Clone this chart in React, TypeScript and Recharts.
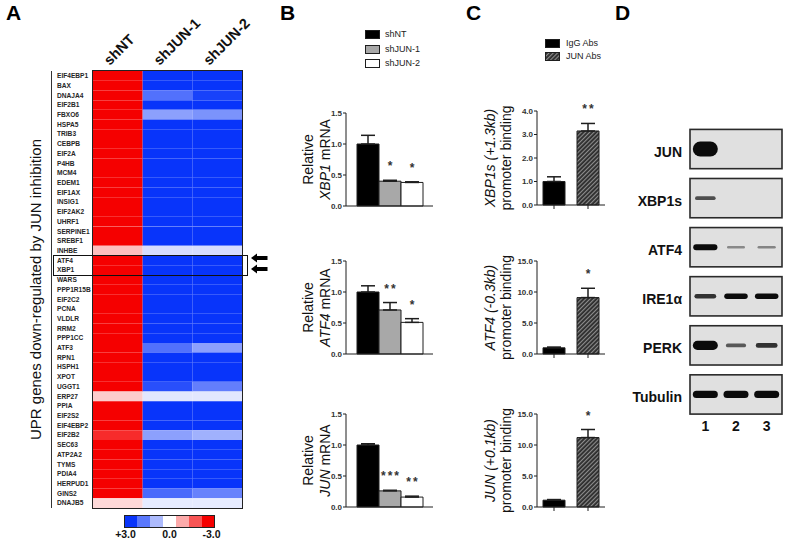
import React from 'react';
import {
  BarChart, Bar, XAxis, YAxis, ErrorBar, LabelList, Cell,
  ScatterChart, Scatter,
} from 'recharts';

const FONT = 'Arial, "Liberation Sans", Helvetica, sans-serif';

// ---------- A: heatmap of UPR genes ----------
const GENES = [
  'EIF4EBP1', 'BAX', 'DNAJA4', 'EIF2B1', 'FBXO6', 'HSPA5', 'TRIB3', 'CEBPB', 'EIF2A', 'P4HB',
  'MCM4', 'EDEM1', 'EIF1AX', 'INSIG1', 'EIF2AK2', 'UHRF1', 'SERPINE1', 'SREBF1', 'INHBE', 'ATF4',
  'XBP1', 'WARS', 'PPP1R15B', 'EIF2C2', 'PCNA', 'VLDLR', 'RRM2', 'PPP1CC', 'ATF3', 'RPN1',
  'HSPH1', 'XPOT', 'UGGT1', 'ERP27', 'PPIA', 'EIF2S2', 'EIF4EBP2', 'EIF2B2', 'SEC63', 'ATP2A2',
  'TYMS', 'PDIA4', 'HERPUD1', 'GINS2', 'DNAJB5',
];
const HEAT_SAMPLES = ['shNT', 'shJUN-1', 'shJUN-2'];
const Z_SHNT = [
  -3, -3, -3, -3, -3, -3, -3, -3, -3, -3,
  -3, -3, -3, -3, -3, -3, -3, -3, -0.75, -3,
  -3, -3, -3, -3, -3, -3, -3, -3, -3, -3,
  -3, -3, -3, -0.6, -3, -3, -3, -2.5, -3, -3,
  -3, -3, -3, -3, -0.45,
];
const Z_SHJUN1 = [
  3, 3, 2.1, 3, 1.4, 3, 3, 3, 3, 3,
  3, 3, 3, 3, 3, 3, 3, 3, 0.5, 3,
  3, 3, 3, 3, 3, 3, 3, 3, 2.1, 3,
  3, 3, 2.6, 0.35, 3, 3, 3, 1.4, 3, 3,
  3, 3, 3, 2.2, 0.3,
];
const Z_SHJUN2 = [
  3, 3, 2.8, 3, 1.6, 3, 3, 3, 3, 3,
  3, 3, 3, 3, 3, 3, 3, 3, 0.5, 3,
  3, 3, 3, 3, 3, 3, 3, 3, 1.4, 3,
  3, 3, 1.9, 0.35, 3, 3, 3, 1.15, 3, 3,
  3, 3, 3, 1.85, 0.3,
];
const SCALE_STEPS = [3, 2, 1, 0, -1, -2, -3];
const SCALE_LABELS = ['+3.0', '', '', '0.0', '', '', '-3.0'];

// ---------- B: qPCR ----------
const QPCR_GROUPS = ['shNT', 'shJUN-1', 'shJUN-2'];
const QPCR_GENES = ['XBP1', 'ATF4', 'JUN'];
const XBP1_MEAN = [1.0, 0.4, 0.38];
const XBP1_SEM = [0.14, 0.015, 0.01];
const XBP1_SIG = ['', '*', '*'];
const ATF4_MEAN = [1.0, 0.71, 0.51];
const ATF4_SEM = [0.1, 0.12, 0.06];
const ATF4_SIG = ['', '**', '*'];
const JUN_MEAN = [1.0, 0.26, 0.16];
const JUN_SEM = [0.02, 0.01, 0.015];
const JUN_SIG = ['', '***', '**'];
const QPCR_TICKS = [0, 0.5, 1.0, 1.5];

// ---------- C: ChIP ----------
const CHIP_GROUPS = ['IgG Abs', 'JUN Abs'];
const CHIP_TARGETS = ['XBP1s (+1.3kb)', 'ATF4 (-0.3kb)', 'JUN (+0.1kb)'];
const CHIP_XBP1S_MEAN = [1.0, 3.15];
const CHIP_XBP1S_SEM = [0.2, 0.32];
const CHIP_XBP1S_SIG = ['', '**'];
const CHIP_ATF4_MEAN = [1.0, 9.1];
const CHIP_ATF4_SEM = [0.12, 1.5];
const CHIP_ATF4_SIG = ['', '*'];
const CHIP_JUN_MEAN = [1.1, 11.2];
const CHIP_JUN_SEM = [0.1, 1.3];
const CHIP_JUN_SIG = ['', '*'];
const CHIP_TICKS_SMALL = [0, 1, 2, 3, 4];
const CHIP_TICKS_LARGE = [0, 5, 10, 15];

// ---------- D: western blot ----------
const BLOT_TARGETS = ['JUN', 'XBP1s', 'ATF4', 'IRE1α', 'PERK', 'Tubulin'];
const BLOT_LANES = ['shNT', 'shJUN-1', 'shJUN-2'];
const BLOT_SIGNAL = [
  [1.0, 0, 0],
  [0.15, 0, 0],
  [0.3, 0.04, 0.05],
  [0.2, 0.27, 0.27],
  [0.55, 0.13, 0.2],
  [0.4, 0.4, 0.4],
];

// colours
const BLUE = [8, 52, 250];
const RED = [245, 0, 0];
const heatColor = (v: number) => {
  const t = Math.min(1, Math.abs(v) / 3);
  const c = v >= 0 ? BLUE : RED;
  const m = c.map((ch) => Math.round(255 + (ch - 255) * t));
  return `rgb(${m[0]},${m[1]},${m[2]})`;
};
const QPCR_FILLS = ['#000', '#a8a8a8', '#fff'];
const CHIP_FILLS = ['#000', 'url(#hatch)'];
const INK = '#1e1e1e';

type Plot = { x: number; y: number; w: number; h: number };

const PanelLetter = ({ t, x }: { t: string; x: number }) => (
  <div style={{ position: 'absolute', left: x, top: 2, fontSize: 21, fontWeight: 'bold', lineHeight: '21px', color: '#000' }}>{t}</div>
);

// star label placed above the error bar
const starContent = (errs: number[], sigs: string[]) => (p: any) => {
  const i = p.index ?? 0;
  const text = sigs[i];
  if (!text) return null;
  const vb = p.viewBox || {};
  const x = p.x ?? vb.x;
  const y = p.y ?? vb.y;
  const w = p.width ?? vb.width;
  const h = p.height ?? vb.height;
  const v = Number(p.value);
  const top = Math.min(y, y + h);
  const errPx = v ? (errs[i] * Math.abs(h)) / v : 0;
  return (
    <text x={x + w / 2 + 1} y={top - errPx - 10} textAnchor="middle" fontSize={12} fontWeight="bold" fill="#333" letterSpacing={2}>
      {text}
    </text>
  );
};

const axisTitle = (lines: React.ReactNode[], xs: number[], cy: number) => () => (
  <g>
    {lines.map((ln, i) => (
      <text key={i} transform={`translate(${xs[i]}, ${cy}) rotate(-90)`} textAnchor="middle" fontSize={14} fill="#111">
        {ln}
      </text>
    ))}
  </g>
);

// ---------- A ----------
const HEAT_PLOT: Plot = { x: 93, y: 71, w: 149, h: 437 };
const HEAT_BAR = HEAT_PLOT.h / GENES.length - 0.01;

const Heatmap = () => {
  const cols = [Z_SHNT, Z_SHJUN1, Z_SHJUN2];
  const keys = ['c0', 'c1', 'c2'];
  const rows = GENES.map((g) => ({ gene: g, c0: 1, c1: 1, c2: 1 }));
  const W = 260;
  const H = HEAT_PLOT.y + HEAT_PLOT.h + 7;
  return (
    <div style={{ position: 'absolute', left: 0, top: 0 }}>
      <BarChart width={W} height={H} data={rows} layout="vertical" barCategoryGap={0}
        margin={{ top: 0, right: W - HEAT_PLOT.x - HEAT_PLOT.w, bottom: 7, left: 0 }}>
        <XAxis type="number" orientation="top" domain={[0, 3]} ticks={[0.5, 1.5, 2.5]} height={HEAT_PLOT.y}
          axisLine={false} tickLine={false} interval={0}
          tick={(p: any) => (
            <text transform={`translate(${p.x - 8}, 66) rotate(-45)`} fontSize={14.5} fontWeight="bold" fill="#111">
              {HEAT_SAMPLES[Math.floor(p.payload.value)]}
            </text>
          )} />
        <YAxis type="category" dataKey="gene" width={HEAT_PLOT.x} axisLine={false} tickLine={false} interval={0}
          tick={(p: any) => (
            <text x={57} y={p.y} dy={2.3} fontSize={6.6} fontWeight="bold" fill="#262626">{p.payload.value}</text>
          )}
          label={() => (
            <text transform={`translate(41, ${HEAT_PLOT.y + HEAT_PLOT.h / 2}) rotate(-90)`} textAnchor="middle" fontSize={15} fill="#111">
              UPR genes down-regulated by JUN inhibition
            </text>
          )} />
        {keys.map((k, c) => (
          <Bar key={k} dataKey={k} stackId="h" barSize={HEAT_BAR} isAnimationActive={false}>
            {rows.map((_, i) => <Cell key={i} fill={heatColor(cols[c][i])} />)}
          </Bar>
        ))}
      </BarChart>
    </div>
  );
};

const SCALE_LABEL_SHIFT = [-5, 0, 0, 0, 0, 0, 3];

const ColorScale = () => {
  const rows = SCALE_STEPS.map((s, i) => ({ step: i, one: 1 }));
  return (
    <div style={{ position: 'absolute', left: 108, top: 515 }}>
      <BarChart width={115} height={24} data={rows} barCategoryGap={0} margin={{ top: 0, right: 8, bottom: 0, left: 16 }}>
        <XAxis dataKey="step" height={11} axisLine={false} tickLine={false} tickSize={0} interval={0}
          tick={(p: any) => (
            <text x={p.x + SCALE_LABEL_SHIFT[p.payload.value]} y={22.5} textAnchor="middle" fontSize={10.5} fontWeight="bold" fill="#111">
              {SCALE_LABELS[p.payload.value]}
            </text>
          )} />
        <YAxis hide domain={[0, 1]} />
        <Bar dataKey="one" isAnimationActive={false}>
          {rows.map((_, i) => <Cell key={i} fill={heatColor(SCALE_STEPS[i])} />)}
        </Bar>
      </BarChart>
    </div>
  );
};

const Arrow = ({ y }: { y: number }) => (
  <g>
    <polygon points={`0,${y} 6,${y - 4.5} 6,${y + 4.5}`} fill="#000" />
    <rect x={5.5} y={y - 2} width={11} height={4} fill="#000" />
  </g>
);

// ---------- B ----------
const B_PLOTS: Plot[] = [
  { x: 346, y: 113, w: 87, h: 93 },
  { x: 346, y: 261, w: 87, h: 93 },
  { x: 346, y: 414, w: 87, h: 93 },
];

const QpcrChart = ({ plot, gene, means, sems, sigs }: { plot: Plot; gene: string; means: number[]; sems: number[]; sigs: string[] }) => {
  const row: any = { name: gene };
  QPCR_GROUPS.forEach((_, i) => { row['g' + i] = means[i]; row['e' + i] = [0, sems[i]]; });
  const yw = 51, mt = 14, mr = 4, xh = 3, mb = 6;
  return (
    <div style={{ position: 'absolute', left: plot.x - yw, top: plot.y - mt }}>
      <BarChart width={yw + plot.w + mr} height={mt + plot.h + xh + mb} data={[row]} barGap={0}
        margin={{ top: mt, right: mr, bottom: mb, left: 0 }}>
        <XAxis dataKey="name" height={xh} tickLine={false} tickFormatter={() => ''} stroke={INK} />
        <YAxis width={yw} domain={[0, 1.5]} ticks={QPCR_TICKS} interval={0} tickSize={3} tickMargin={1} stroke={INK}
          tickFormatter={(v: number) => v.toFixed(1)}
          tick={{ fontSize: 8, fontWeight: 'bold', fill: '#333' }}
          label={axisTitle(['Relative', <><tspan fontStyle="italic">{gene}</tspan>{' mRNA'}</>], [18, 35], mt + plot.h / 2)} />
        {QPCR_GROUPS.map((g, i) => (
          <Bar key={g} dataKey={'g' + i} fill={QPCR_FILLS[i]} stroke={INK} strokeWidth={1} barSize={22} isAnimationActive={false}>
            <ErrorBar dataKey={'e' + i} width={7} stroke={INK} strokeWidth={1.5} direction="y" />
            <LabelList dataKey={'g' + i} content={starContent([sems[i]], [sigs[i]])} />
          </Bar>
        ))}
      </BarChart>
    </div>
  );
};

// ---------- C ----------
const C_PLOTS: Plot[] = [
  { x: 537, y: 111, w: 68, h: 94 },
  { x: 537, y: 261, w: 68, h: 93 },
  { x: 537, y: 414, w: 68, h: 93 },
];

const ChipChart = ({ plot, target, means, sems, sigs, ticks }: { plot: Plot; target: string; means: number[]; sems: number[]; sigs: string[]; ticks: number[] }) => {
  const rows = CHIP_GROUPS.map((g, i) => ({ name: g, v: means[i], err: [0, sems[i]] }));
  const yw = 57, mt = 14, mr = 4, xh = 6, mb = 4;
  return (
    <div style={{ position: 'absolute', left: plot.x - yw, top: plot.y - mt }}>
      <BarChart width={yw + plot.w + mr} height={mt + plot.h + xh + mb} data={rows}
        margin={{ top: mt, right: mr, bottom: mb, left: 0 }}>
        <XAxis dataKey="name" height={xh} tickSize={4} tickFormatter={() => ''} stroke={INK} />
        <YAxis width={yw} domain={[0, ticks[ticks.length - 1]]} ticks={ticks} interval={0} tickSize={3} tickMargin={1} stroke={INK}
          tickFormatter={(v: number) => v.toFixed(1)}
          tick={{ fontSize: 8, fontWeight: 'bold', fill: '#333' }}
          label={axisTitle([<tspan fontStyle="italic">{target}</tspan>, 'promoter binding'], [15, 31], mt + plot.h / 2)} />
        <Bar dataKey="v" stroke={INK} strokeWidth={1} barSize={22} isAnimationActive={false}>
          {rows.map((_, i) => <Cell key={i} fill={CHIP_FILLS[i]} />)}
          <ErrorBar dataKey="err" width={7} stroke={INK} strokeWidth={1.5} direction="y" />
          <LabelList dataKey="v" content={starContent(sems, sigs)} />
        </Bar>
      </BarChart>
    </div>
  );
};

// ---------- D ----------
const D_PLOT: Plot = { x: 690, y: 124.5, w: 92, h: 294.5 };

const Blot = () => {
  const yw = 80, top = 75, mr = 18, xTop = D_PLOT.y - top, xBottom = 20;
  const rowPx = D_PLOT.h / BLOT_TARGETS.length;
  const boxes = BLOT_TARGETS.map((_, r) => ({ lane: 2, row: r }));
  const bands = BLOT_SIGNAL.flatMap((row, r) => row.map((s, l) => ({ lane: l + 1, row: r, signal: s })));
  return (
    <div style={{ position: 'absolute', left: D_PLOT.x - yw, top }}>
      <ScatterChart width={yw + D_PLOT.w + mr} height={xTop + D_PLOT.h + xBottom}
        margin={{ top: 0, right: mr, bottom: 0, left: 0 }}>
        <XAxis xAxisId="top" orientation="top" type="number" dataKey="lane" domain={[0.5, 3.5]} ticks={[1, 2, 3]}
          height={xTop} axisLine={false} tickLine={false} interval={0}
          tick={(p: any) => (
            <text transform={`translate(${p.x - 8}, 40) rotate(-45)`} fontSize={12.5} fontWeight="bold" fill="#111">
              {BLOT_LANES[p.payload.value - 1]}
            </text>
          )} />
        <XAxis type="number" dataKey="lane" domain={[0.5, 3.5]} ticks={[1, 2, 3]} height={xBottom}
          axisLine={false} tickLine={false} tickSize={0} tickMargin={2} interval={0}
          tick={{ fontSize: 14, fontWeight: 'bold', fill: '#111' }} />
        <YAxis type="number" dataKey="row" domain={[-0.5, 5.5]} reversed ticks={[0, 1, 2, 3, 4, 5]} interval={0}
          width={yw} axisLine={false} tickLine={false} tickSize={0} tickMargin={8}
          tick={(p: any) => (
            <text x={p.x} y={p.y} dy={8} textAnchor="end" fontSize={14} fontWeight="bold" fill="#111">
              {BLOT_TARGETS[p.payload.value]}
            </text>
          )} />
        <Scatter data={boxes} isAnimationActive={false}
          shape={(p: any) => (
            <rect x={p.cx - D_PLOT.w / 2} y={p.cy - rowPx * 0.4} width={D_PLOT.w} height={rowPx * 0.8}
              fill="#e0e0e0" stroke="#2a2a2a" strokeWidth={1.6} />
          )} />
        <Scatter data={bands} isAnimationActive={false}
          shape={(p: any) => {
            const s = p.payload.signal;
            if (!s) return <g />;
            const h = 2 + 13 * s;
            const w = 17 + 8 * Math.min(1, s * 3);
            return <rect x={p.cx - w / 2} y={p.cy - h / 2} width={w} height={h} rx={h / 2}
              fill="#0b0b0b" fillOpacity={Math.min(1, 0.3 + 2.6 * s)} />;
          }} />
      </ScatterChart>
    </div>
  );
};

const Swatch = ({ fill }: { fill: string }) => (
  <svg width={15} height={9} style={{ display: 'block' }}>
    <rect x={0.5} y={0.5} width={14} height={8} fill={fill} stroke={INK} strokeWidth={1} />
  </svg>
);

export default function App() {
  return (
    <div style={{ position: 'absolute', left: 0, top: 0, width: 800, height: 539, background: '#fff', fontFamily: FONT, overflow: 'hidden' }}>
      <svg width={0} height={0} style={{ position: 'absolute' }}>
        <defs>
          <pattern id="hatch" width={3} height={3} patternUnits="userSpaceOnUse" patternTransform="rotate(45)">
            <rect width={3} height={3} fill="#2e2e2e" />
            <rect width={1.1} height={3} fill="#8e8e8e" />
          </pattern>
        </defs>
      </svg>

      <PanelLetter t="A" x={6} />
      <PanelLetter t="B" x={280} />
      <PanelLetter t="C" x={466} />
      <PanelLetter t="D" x={615} />

      {/* A */}
      <Heatmap />
      <div style={{ position: 'absolute', left: 51, top: HEAT_PLOT.y, width: 1, height: HEAT_PLOT.h, background: '#333' }} />
      <div style={{ position: 'absolute', left: HEAT_PLOT.x - 1, top: HEAT_PLOT.y - 1, width: HEAT_PLOT.w + 2, height: HEAT_PLOT.h + 2, border: '1.5px solid #222', boxSizing: 'border-box' }} />
      <div style={{ position: 'absolute', left: 53, top: 255, width: 195, height: 21, border: '1px solid #111', boxSizing: 'border-box' }} />
      <svg width={20} height={30} style={{ position: 'absolute', left: 251, top: 252 }}>
        <Arrow y={6} />
        <Arrow y={17} />
      </svg>
      <ColorScale />
      <div style={{ position: 'absolute', left: 124, top: 515, width: 91, height: 13, border: '1px solid #222', boxSizing: 'border-box' }} />

      {/* B */}
      {QPCR_GROUPS.map((g, i) => (
        <div key={g} style={{ position: 'absolute', left: 365, top: 30 + i * 14.5, display: 'flex', alignItems: 'center', gap: 5, fontSize: 9, color: '#222', lineHeight: '9px' }}>
          <Swatch fill={QPCR_FILLS[i]} />
          <span>{g}</span>
        </div>
      ))}
      <QpcrChart plot={B_PLOTS[0]} gene={QPCR_GENES[0]} means={XBP1_MEAN} sems={XBP1_SEM} sigs={XBP1_SIG} />
      <QpcrChart plot={B_PLOTS[1]} gene={QPCR_GENES[1]} means={ATF4_MEAN} sems={ATF4_SEM} sigs={ATF4_SIG} />
      <QpcrChart plot={B_PLOTS[2]} gene={QPCR_GENES[2]} means={JUN_MEAN} sems={JUN_SEM} sigs={JUN_SIG} />

      {/* C */}
      {CHIP_GROUPS.map((g, i) => (
        <div key={g} style={{ position: 'absolute', left: 545, top: 39 + i * 13, display: 'flex', alignItems: 'center', gap: 6, fontSize: 9, color: '#222', lineHeight: '9px' }}>
          <Swatch fill={CHIP_FILLS[i]} />
          <span>{g}</span>
        </div>
      ))}
      <ChipChart plot={C_PLOTS[0]} target={CHIP_TARGETS[0]} means={CHIP_XBP1S_MEAN} sems={CHIP_XBP1S_SEM} sigs={CHIP_XBP1S_SIG} ticks={CHIP_TICKS_SMALL} />
      <ChipChart plot={C_PLOTS[1]} target={CHIP_TARGETS[1]} means={CHIP_ATF4_MEAN} sems={CHIP_ATF4_SEM} sigs={CHIP_ATF4_SIG} ticks={CHIP_TICKS_LARGE} />
      <ChipChart plot={C_PLOTS[2]} target={CHIP_TARGETS[2]} means={CHIP_JUN_MEAN} sems={CHIP_JUN_SEM} sigs={CHIP_JUN_SIG} ticks={CHIP_TICKS_LARGE} />

      {/* D */}
      <Blot />
    </div>
  );
}
